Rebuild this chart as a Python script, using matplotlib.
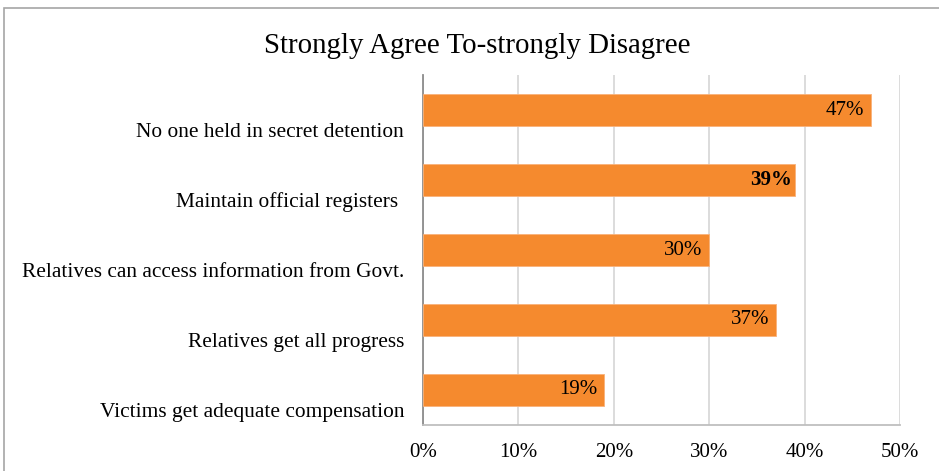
import matplotlib.pyplot as plt
import matplotlib.transforms as mtransforms
from matplotlib.patches import Rectangle

# Chart data
categories = ['No one held in secret detention',
              'Maintain official registers ',
              'Relatives can access information from Govt.',
              'Relatives get all progress',
              'Victims get adequate compensation']
values = [47, 39, 30, 37, 19]
bold_label = [False, True, False, False, False]
ticks = [0, 10, 20, 30, 40, 50]
tick_labels = ['0%', '10%', '20%', '30%', '40%', '50%']

plt.rcParams['font.family'] = ['Liberation Serif', 'DejaVu Serif']

fig = plt.figure(figsize=(9.39, 4.71), dpi=100)
# outer chart border (cropped on the right and bottom)
fig.patches.append(Rectangle((4 / 939, -0.05), 1.1, 1 - 8 / 471 + 0.05,
                             transform=fig.transFigure, fill=False,
                             edgecolor='#a6a6a6', linewidth=1.2))

ax = fig.add_axes([423 / 939, 46 / 471, 477 / 939, 350 / 471])
pos = list(range(len(categories)))
ax.barh(pos, values, height=0.465, color='#F58A2E', edgecolor='#F9B27A',
        linewidth=0.6, zorder=3)
ax.set_ylim(len(categories) - 0.5, -0.5)
ax.set_xlim(0, 50)

# value labels at the inside end of the bars
for p, v, b in zip(pos, values, bold_label):
    shift = mtransforms.ScaledTranslation(-(0.03 if b else 0.07), 0,
                                          fig.dpi_scale_trans)
    ax.text(v, p, '%d%%' % v, ha='right', va='center', fontsize=15,
            fontweight='bold' if b else 'normal', color='black', zorder=4,
            transform=ax.transData + shift)

ax.set_xticks(ticks)
ax.set_xticklabels(tick_labels, fontsize=15)
ax.set_yticks([])

# category labels sit a bit below the bars
lab_tr = mtransforms.blended_transform_factory(ax.transAxes, ax.transData)
lab_tr = lab_tr + mtransforms.ScaledTranslation(-0.19, -0.225,
                                                fig.dpi_scale_trans)
for p, c in zip(pos, categories):
    ax.text(0, p, c, ha='right', va='center', fontsize=15.4,
            transform=lab_tr)

ax.tick_params(axis='both', length=0)
ax.tick_params(axis='x', pad=13)
ax.grid(axis='x', color='#d9d9d9', linewidth=1.3, zorder=0)
for s in ['top', 'right']:
    ax.spines[s].set_visible(False)
ax.spines['left'].set_color('#8c8c8c')
ax.spines['left'].set_linewidth(1.3)
ax.spines['bottom'].set_color('#bfbfbf')
ax.spines['bottom'].set_linewidth(1.3)

fig.text(477 / 939, 1 - 53 / 471, 'Strongly Agree To-strongly Disagree',
         ha='center', va='baseline', fontsize=20.8)

fig.savefig('out.png', dpi=100)
